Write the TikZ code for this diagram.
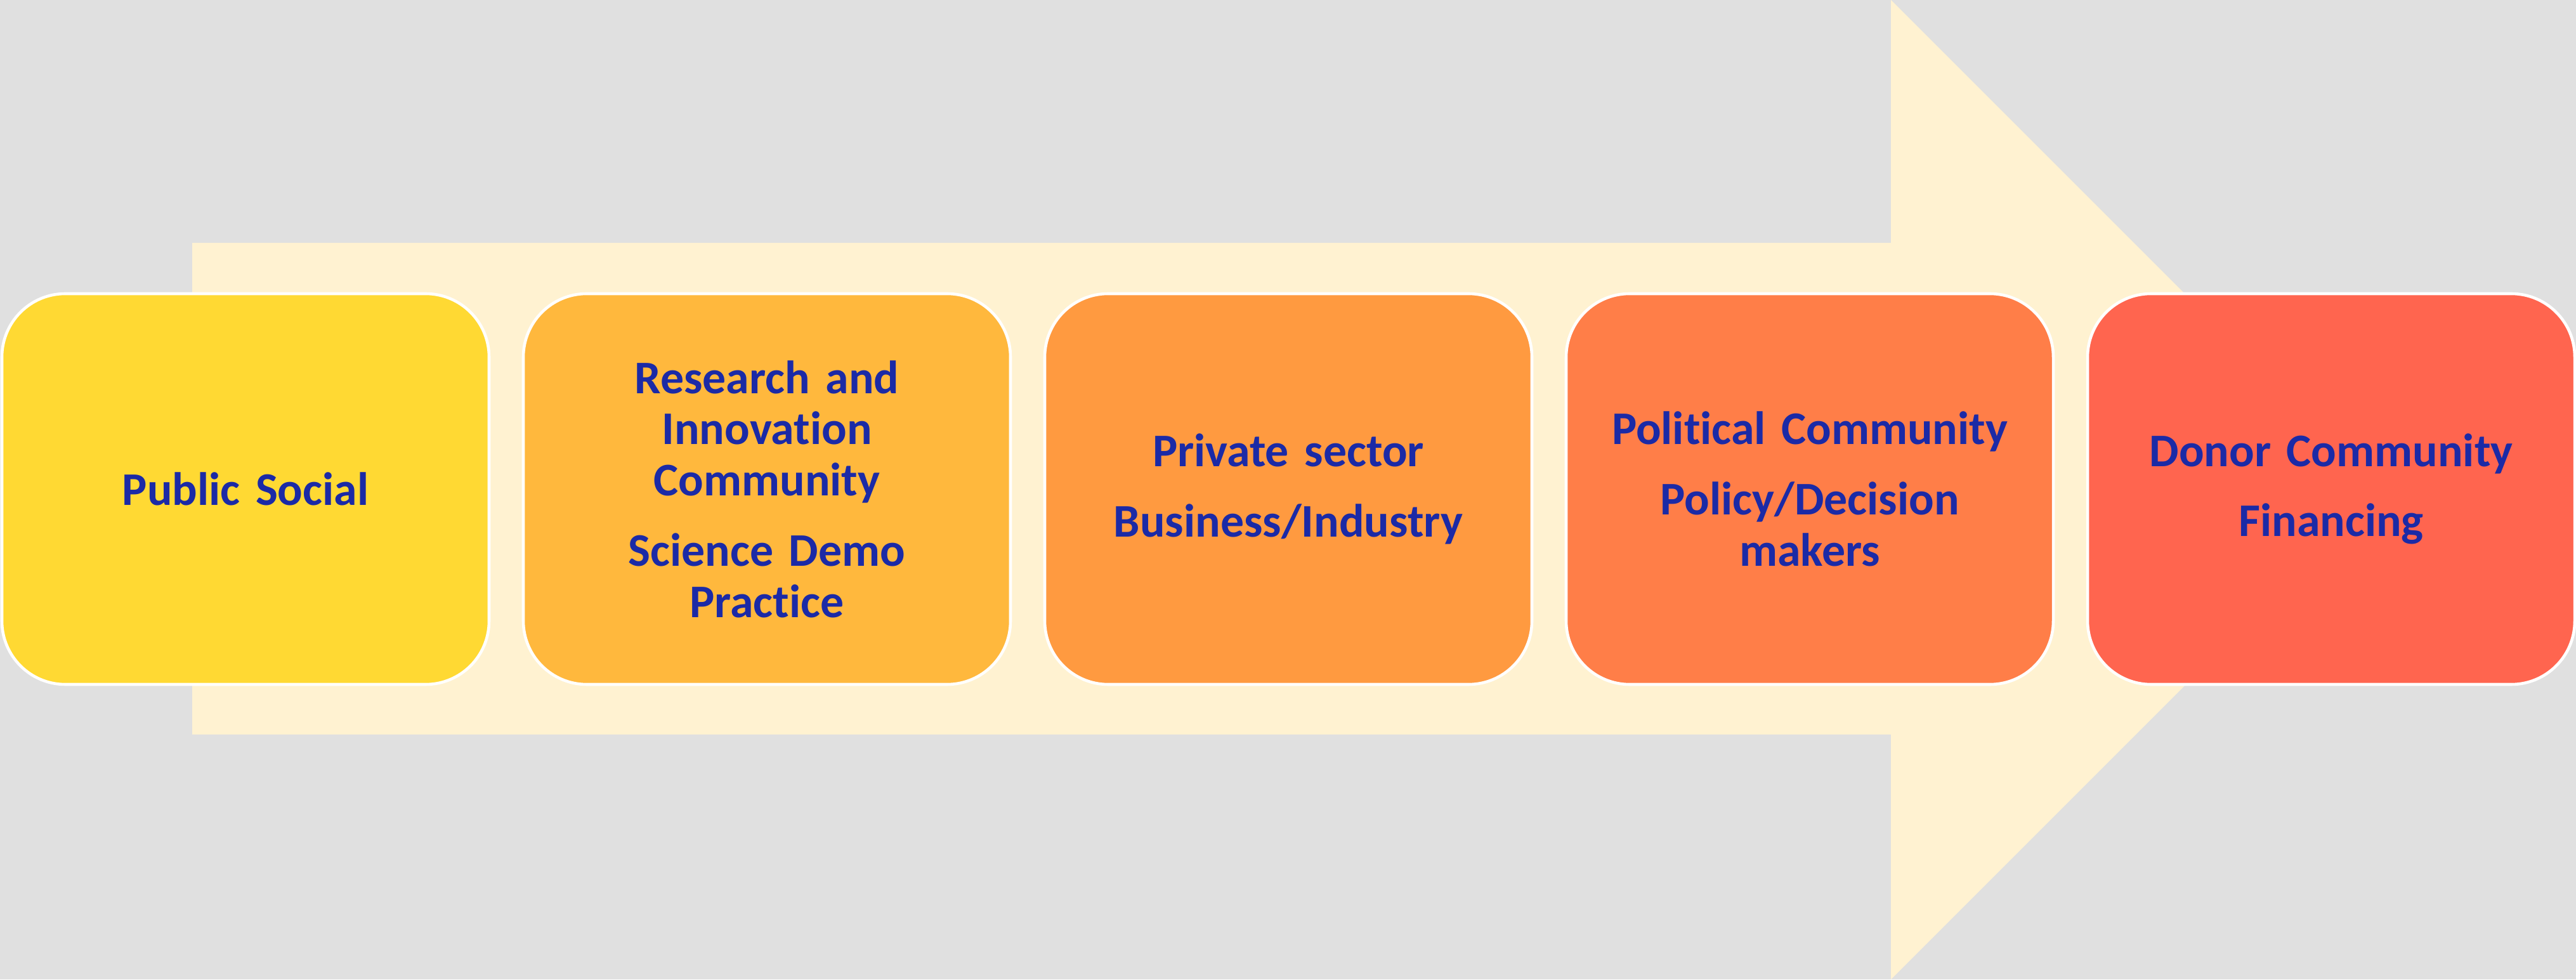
\documentclass[tikz,border=0pt]{standalone}
\usepackage{fontspec}
\setmainfont{Carlito}[Ligatures=NoCommon]
\usetikzlibrary{positioning}
\definecolor{bgGray}{HTML}{E0E0E0}
\definecolor{arrowCream}{HTML}{FFF2D1}
\definecolor{txtBlue}{HTML}{1B2AA6}
\definecolor{stageA}{HTML}{FFD933}
\definecolor{stageB}{HTML}{FFB83D}
\definecolor{stageC}{HTML}{FF9A40}
\definecolor{stageD}{HTML}{FF7E48}
\definecolor{stageE}{HTML}{FF654F}

\begin{document}
\begin{tikzpicture}[
    node distance=5.4mm,
    stage/.style={draw=white, line width=1.3pt, rounded corners=10mm,
                  align=center, text=txtBlue,
                  font=\fontsize{21}{23}\selectfont\bfseries,
                  inner sep=0pt, outer sep=0pt, text width=70mm,
                  minimum width=76.8mm, minimum height=61.6mm},
]
\useasboundingbox (0,0) rectangle (40.61,15.44);
\fill[bgGray] (0,0) rectangle (40.61,15.44);
% big arrow behind the stages
\fill[arrowCream] (3.03,3.86) -- (29.81,3.86) -- (29.81,0) -- (37.53,7.72)
    -- (29.81,15.44) -- (29.81,11.61) -- (3.03,11.61) -- cycle;
\node[stage, fill=stageA] (pub) at (3.87,7.73) {Public Social};
\node[stage, fill=stageB, right=of pub] (res)
   {Research and\\ Innovation\\ Community\\[8.5pt] Science Demo\\ Practice};
\node[stage, fill=stageC, right=of res] (priv)
   {Private sector\\[8.5pt] Business/Industry};
\node[stage, fill=stageD, right=of priv] (pol)
   {Political Community\\[8.5pt] Policy/Decision\\ makers};
\node[stage, fill=stageE, right=of pol] (don)
   {Donor Community\\[8.5pt] Financing};
\end{tikzpicture}
\end{document}
